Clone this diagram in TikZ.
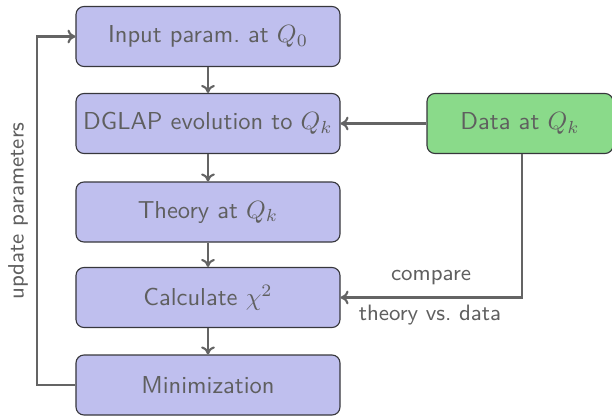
\documentclass[tikz,border=0pt]{standalone}
\usetikzlibrary{arrows.meta}
\definecolor{boxblue}{RGB}{191,191,238}
\definecolor{boxgreen}{RGB}{138,218,138}
\definecolor{txtgray}{RGB}{95,95,95}
\definecolor{linegray}{RGB}{100,100,100}
\definecolor{bordergray}{RGB}{55,55,60}
\begin{document}
\begin{tikzpicture}[x=0.4pt,y=-0.4pt,
  font=\sffamily\fontsize{9.8}{12}\selectfont,
  stepbox/.style={draw=bordergray,line width=0.45pt,fill=boxblue,rounded corners=3.2pt,
    minimum width=105.6pt,minimum height=24pt,inner sep=0pt,text=txtgray},
  databox/.style={stepbox,fill=boxgreen,minimum width=74.4pt},
  conn/.style={draw=linegray,line width=0.85pt,-{To[length=3.2pt,width=5.5pt]}},
  lbl/.style={text=txtgray,font=\sffamily\fontsize{8.9}{11}\selectfont}]
\useasboundingbox (0,0) rectangle (612,415);
\node[stepbox] (in) at (208,36.5) {Input param.\ at $Q_0$};
\node[stepbox] (dg) at (208,123.5) {DGLAP evolution to $Q_k$};
\node[stepbox] (th) at (208,212) {Theory at $Q_k$};
\node[stepbox] (ch) at (208,297.5) {Calculate $\chi^2$};
\node[stepbox] (mi) at (208,385) {Minimization};
\node[databox] (da) at (520,123.5) {Data at $Q_k$};
\draw[conn] (in) -- (dg);
\draw[conn] (dg) -- (th);
\draw[conn] (th) -- (ch);
\draw[conn] (ch) -- (mi);
\draw[conn] (da) -- (dg);
\coordinate (cr) at (522,297.5);
\draw[conn] (da.south -| cr) -- (cr) -- (ch.east);
\coordinate (ll) at (37,385);
\coordinate (lu) at (37,36.5);
\draw[conn] (mi.west) -- (ll) -- (lu) -- (in.west);
\node[lbl] (cmp) at (431,278) {compare};
\node[lbl] (tvd) at (430,315) {theory vs.\ data};
\node[lbl,rotate=90] (up) at (18,211) {update parameters};
\end{tikzpicture}
\end{document}
